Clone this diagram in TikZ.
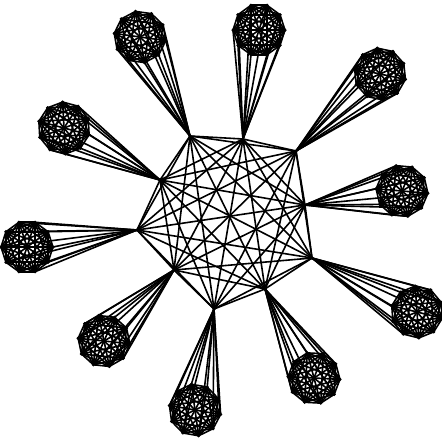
\documentclass[tikz,border=0pt]{standalone}
\begin{document}
\begin{tikzpicture}[x=1pt,y=-1pt,
  edge/.style={line width=1.6pt, line cap=round, black},
  vdot/.style={circle, fill=black, inner sep=0pt, minimum size=3.5pt}]
\useasboundingbox (0,0) rectangle (442,437);
% hubs of the central complete graph
\foreach \i/\x/\y in {1/190/136, 2/243/139, 3/296/151, 4/305/205, 5/312/258,
                      6/265/289, 7/214/309, 8/174/270, 9/137/230, 10/160/180}
  \coordinate (h\i) at (\x,\y);
\foreach \i in {1,...,9}{
  \pgfmathtruncatemacro\s{\i+1}
  \foreach \j in {\s,...,10} \draw[edge] (h\i) -- (h\j);
}
% clusters
\foreach \i/\cx/\cy/\rot in {1/140/37/8, 2/259/30/0, 3/380/74/12, 4/402/191/5, 5/417/312/14,
                             6/314/378/3, 7/195/410/10, 8/104/341/6, 9/27/247/0, 10/64/128/15}{
  \foreach \k in {1,...,10}{
    \pgfmathsetmacro\a{\rot+36*\k}
    \coordinate (k\i-\k) at ([shift={(\cx,\cy)}]\a:26);
  }
  \foreach \k in {1,...,10} \draw[edge] (h\i) -- (k\i-\k);
  \foreach \k in {1,...,9}{
    \pgfmathtruncatemacro\s{\k+1}
    \foreach \m in {\s,...,10} \draw[edge] (k\i-\k) -- (k\i-\m);
  }
  \foreach \k in {1,...,10} \node[vdot] (d\i-\k) at (k\i-\k) {};
}
\foreach \i in {1,...,10} \node[vdot] (hd\i) at (h\i) {};
\end{tikzpicture}
\end{document}
